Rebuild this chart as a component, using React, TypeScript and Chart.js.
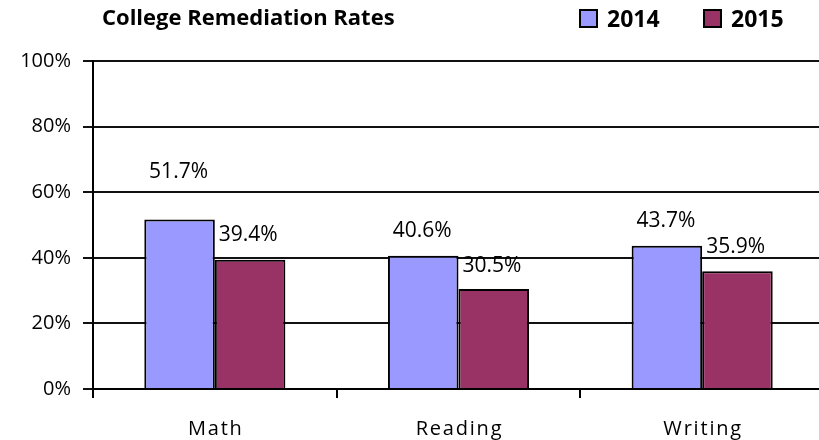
import React, { useEffect, useRef } from "react";
import { Chart, registerables } from "chart.js";

Chart.register(...registerables);

const categories = ["Math", "Reading", "Writing"];
const seriesLabels = ["2014", "2015"];
const values2014 = [51.7, 40.6, 43.7];
const values2015 = [39.4, 30.5, 35.9];
const yTicks = [0, 20, 40, 60, 80, 100];
const titleText = "College Remediation Rates";

const FONT = "'Open Sans', sans-serif";

const overlayPlugin = {
  id: "overlay",
  afterDraw(chart: any, _args: any, opts: any) {
    const ctx = chart.ctx;
    ctx.save();
    ctx.textBaseline = "alphabetic";
    // title
    ctx.fillStyle = "#000";
    ctx.font = `bold ${opts.titleSize}px ${FONT}`;
    ctx.textAlign = "left";
    ctx.fillText(titleText, opts.titleX, opts.titleBaseline);
    // legend
    chart.data.datasets.forEach((ds: any, i: number) => {
      const x = opts.legendX[i];
      ctx.fillStyle = ds.backgroundColor;
      ctx.fillRect(x, opts.boxTop, opts.boxSize, opts.boxSize);
      ctx.strokeStyle = "#000";
      ctx.lineWidth = 2;
      ctx.strokeRect(x, opts.boxTop, opts.boxSize, opts.boxSize);
      ctx.fillStyle = "#000";
      ctx.font = `bold ${opts.legendSize}px ${FONT}`;
      ctx.fillText(ds.label, x + opts.legendGap, opts.legendBaseline);
    });
    // data labels
    ctx.font = `${opts.labelSize}px ${FONT}`;
    ctx.fillStyle = "#000";
    chart.data.datasets.forEach((ds: any, di: number) => {
      const meta = chart.getDatasetMeta(di);
      meta.data.forEach((bar: any, pi: number) => {
        const v = ds.data[pi];
        const txt = v.toFixed(1) + "%";
        const off = opts.offsets[di][pi];
        if (di === 0) {
          ctx.textAlign = "center";
          ctx.fillText(txt, bar.x - 1, bar.y - off);
        } else {
          ctx.textAlign = "left";
          ctx.fillText(txt, bar.x - bar.width / 2 + 4, bar.y - off);
        }
      });
    });
    // category labels
    const xs = chart.scales.x;
    ctx.font = `${opts.catSize}px ${FONT}`;
    ctx.textAlign = "center";
    (ctx as any).letterSpacing = "1.8px";
    categories.forEach((c, i) => {
      ctx.fillText(c, xs.getPixelForValue(i) + 1, opts.catBaseline);
    });
    ctx.restore();
  },
};

export default function App() {
  const ref = useRef<HTMLCanvasElement>(null);
  useEffect(() => {
    document.body.style.overflow = "hidden";
    const chart = new Chart(ref.current!, {
      type: "bar",
      data: {
        labels: categories,
        datasets: [
          {
            label: seriesLabels[0],
            data: values2014,
            backgroundColor: "#9999FF",
            borderColor: "#000",
            borderWidth: 2,
          },
          {
            label: seriesLabels[1],
            data: values2015,
            backgroundColor: "#993366",
            borderColor: "#000",
            borderWidth: 2,
          },
        ],
      },
      options: {
        responsive: false,
        animation: false,
        layout: { padding: { top: 61, left: 0, right: 2, bottom: 0 } },
        datasets: {
          bar: { categoryPercentage: 0.579, barPercentage: 1 },
        },
        plugins: {
          legend: { display: false },
          title: { display: false },
          tooltip: { enabled: false },
          overlay: {
            titleX: 102,
            titleBaseline: 25,
            titleSize: 22,
            legendX: [580, 704],
            boxTop: 10,
            boxSize: 17,
            legendGap: 27,
            legendSize: 23,
            legendBaseline: 27,
            labelSize: 21,
            offsets: [
              [41, 19, 19],
              [19, 17, 18],
            ],
            catSize: 20,
            catBaseline: 435,
          },
        } as any,
        scales: {
          x: {
            offset: true,
            grid: {
              offset: true,
              drawOnChartArea: false,
              drawTicks: true,
              tickLength: 9,
              color: "#000",
              lineWidth: 2,
            },
            border: { display: true, color: "#000", width: 2 },
            ticks: { display: false },
            afterFit: (s: any) => {
              s.height = 51;
            },
          },
          y: {
            min: 0,
            max: 100,
            afterBuildTicks: (s: any) => {
              s.ticks = yTicks.map((v) => ({ value: v }));
            },
            grid: {
              color: "#111",
              lineWidth: 2,
              tickLength: 10,
            },
            border: { display: true, color: "#000", width: 2 },
            ticks: {
              color: "#000",
              padding: 12,
              font: { family: FONT, size: 20 },
              callback: (v: any) => v + "%",
            },
            afterFit: (s: any) => {
              s.width = 93;
            },
          },
        },
      },
      plugins: [overlayPlugin],
    });
    return () => chart.destroy();
  }, []);
  return (
    <div
      style={{
        position: "fixed",
        left: 0,
        top: 0,
        width: 819,
        height: 440,
        overflow: "hidden",
        background: "#fff",
      }}
    >
      <canvas ref={ref} width={826} height={440} style={{ width: 826, height: 440, display: "block" }} />
    </div>
  );
}
